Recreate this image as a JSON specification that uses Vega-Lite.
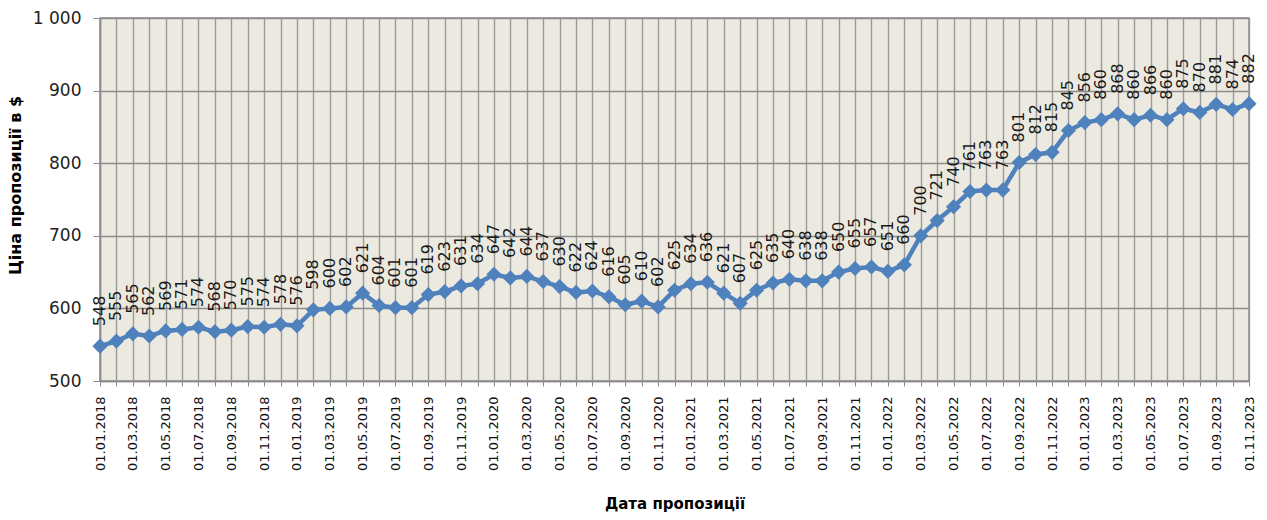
{
  "$schema": "https://vega.github.io/schema/vega-lite/v6.json",
  "autosize": {"type": "none"},
  "padding": {"left": 100, "top": 18, "right": 18, "bottom": 139},
  "width": 1149,
  "height": 363,
  "background": "white",
  "config": {
    "view": {"fill": "#ECEAE0", "stroke": "#8C8C8C", "strokeWidth": 1.5},
    "font": "DejaVu Sans"
  },
  "data": {
    "values": [
      {"date": "01.01.2018", "price": 548}, {"date": "01.02.2018", "price": 555}, {"date": "01.03.2018", "price": 565}, {"date": "01.04.2018", "price": 562},
      {"date": "01.05.2018", "price": 569}, {"date": "01.06.2018", "price": 571}, {"date": "01.07.2018", "price": 574}, {"date": "01.08.2018", "price": 568},
      {"date": "01.09.2018", "price": 570}, {"date": "01.10.2018", "price": 575}, {"date": "01.11.2018", "price": 574}, {"date": "01.12.2018", "price": 578},
      {"date": "01.01.2019", "price": 576}, {"date": "01.02.2019", "price": 598}, {"date": "01.03.2019", "price": 600}, {"date": "01.04.2019", "price": 602},
      {"date": "01.05.2019", "price": 621}, {"date": "01.06.2019", "price": 604}, {"date": "01.07.2019", "price": 601}, {"date": "01.08.2019", "price": 601},
      {"date": "01.09.2019", "price": 619}, {"date": "01.10.2019", "price": 623}, {"date": "01.11.2019", "price": 631}, {"date": "01.12.2019", "price": 634},
      {"date": "01.01.2020", "price": 647}, {"date": "01.02.2020", "price": 642}, {"date": "01.03.2020", "price": 644}, {"date": "01.04.2020", "price": 637},
      {"date": "01.05.2020", "price": 630}, {"date": "01.06.2020", "price": 622}, {"date": "01.07.2020", "price": 624}, {"date": "01.08.2020", "price": 616},
      {"date": "01.09.2020", "price": 605}, {"date": "01.10.2020", "price": 610}, {"date": "01.11.2020", "price": 602}, {"date": "01.12.2020", "price": 625},
      {"date": "01.01.2021", "price": 634}, {"date": "01.02.2021", "price": 636}, {"date": "01.03.2021", "price": 621}, {"date": "01.04.2021", "price": 607},
      {"date": "01.05.2021", "price": 625}, {"date": "01.06.2021", "price": 635}, {"date": "01.07.2021", "price": 640}, {"date": "01.08.2021", "price": 638},
      {"date": "01.09.2021", "price": 638}, {"date": "01.10.2021", "price": 650}, {"date": "01.11.2021", "price": 655}, {"date": "01.12.2021", "price": 657},
      {"date": "01.01.2022", "price": 651}, {"date": "01.02.2022", "price": 660}, {"date": "01.03.2022", "price": 700}, {"date": "01.04.2022", "price": 721},
      {"date": "01.05.2022", "price": 740}, {"date": "01.06.2022", "price": 761}, {"date": "01.07.2022", "price": 763}, {"date": "01.08.2022", "price": 763},
      {"date": "01.09.2022", "price": 801}, {"date": "01.10.2022", "price": 812}, {"date": "01.11.2022", "price": 815}, {"date": "01.12.2022", "price": 845},
      {"date": "01.01.2023", "price": 856}, {"date": "01.02.2023", "price": 860}, {"date": "01.03.2023", "price": 868}, {"date": "01.04.2023", "price": 860},
      {"date": "01.05.2023", "price": 866}, {"date": "01.06.2023", "price": 860}, {"date": "01.07.2023", "price": 875}, {"date": "01.08.2023", "price": 870},
      {"date": "01.09.2023", "price": 881}, {"date": "01.10.2023", "price": 874}, {"date": "01.11.2023", "price": 882}
    ]
  },
  "encoding": {
    "x": {
      "field": "date",
      "type": "ordinal",
      "sort": null,
      "scale": {"type": "point", "padding": 0},
      "axis": {
        "title": "Дата пропозиції",
        "titleFont": "DejaVu Sans",
        "titleFontSize": 15,
        "titleFontWeight": "bold",
        "titleColor": "#000",
        "titlePadding": 26,
        "labelAngle": 270,
        "labelFont": "DejaVu Sans",
        "labelFontSize": 13,
        "labelColor": "#111",
        "labelPadding": 10,
        "labelExpr": "parseInt(substring(datum.value, 3, 5)) % 2 == 1 ? datum.value : ''",
        "labelOverlap": false,
        "grid": true,
        "gridColor": "#9A9A9A",
        "gridWidth": 1.4,
        "domainColor": "#8C8C8C",
        "domainWidth": 1.5,
        "tickColor": "#8C8C8C",
        "tickSize": 5
      }
    },
    "y": {
      "field": "price",
      "type": "quantitative",
      "scale": {"domain": [500, 1000], "nice": false, "zero": false},
      "axis": {
        "title": "Ціна пропозиції в $",
        "titleFont": "DejaVu Sans",
        "titleFontSize": 16,
        "titleFontWeight": "bold",
        "titleColor": "#000",
        "titlePadding": 9,
        "titleY": 167,
        "values": [500, 600, 700, 800, 900, 1000],
        "labelExpr": "replace(datum.label, ',', ' ')",
        "labelFont": "DejaVu Sans",
        "labelFontSize": 17,
        "labelColor": "#222",
        "labelPadding": 12,
        "grid": true,
        "gridColor": "#8C8C8C",
        "gridWidth": 1.5,
        "domainColor": "#8C8C8C",
        "domainWidth": 1.5,
        "tickColor": "#8C8C8C",
        "tickSize": 7
      }
    }
  },
  "layer": [
    {"mark": {"type": "line", "color": "#4F81BD", "strokeWidth": 4.5}},
    {"mark": {"type": "point", "shape": "diamond", "filled": true, "color": "#4F81BD", "size": 230, "opacity": 1}},
    {
      "mark": {"type": "text", "angle": 270, "align": "left", "baseline": "middle", "dx": 20, "font": "DejaVu Sans", "fontSize": 16, "color": "#1a1a1a"},
      "encoding": {"text": {"field": "price", "type": "quantitative"}}
    }
  ]
}
